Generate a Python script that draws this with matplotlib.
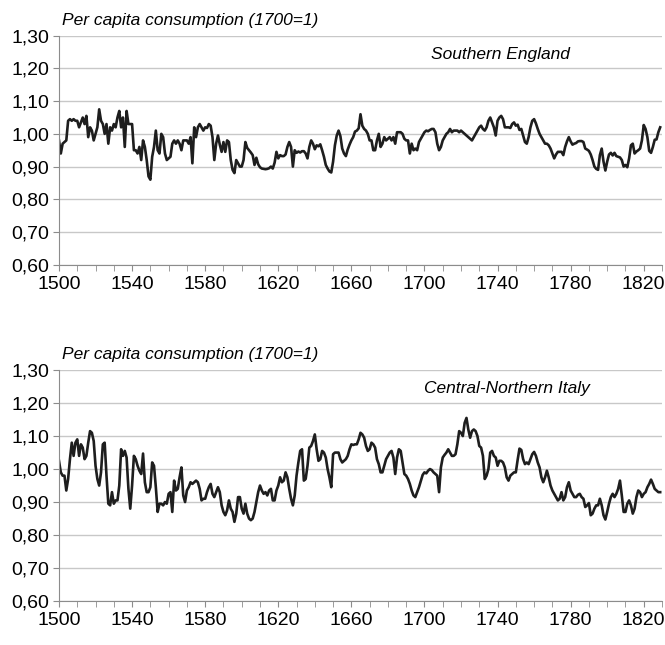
import numpy as np
import matplotlib.pyplot as plt
from matplotlib.ticker import MultipleLocator, FixedLocator, FuncFormatter

FONT = ['Liberation Sans Narrow', 'Liberation Sans', 'DejaVu Sans']
plt.rcParams['font.family'] = FONT

years = np.arange(1500, 1830)
year_labels = [1500, 1540, 1580, 1620, 1660, 1700, 1740, 1780, 1820]

# per capita consumption, 1700 = 1 (one value per year)
england = [
    0.98, 0.94, 0.97, 0.975, 0.98, 1.04, 1.045, 1.04, 1.045, 1.04,
    1.04, 1.02, 1.035, 1.05, 1.03, 1.055, 0.99, 1.02, 1.01, 0.98,
    1.00, 1.02, 1.075, 1.04, 1.03, 1.00, 1.03, 0.97, 1.02, 1.01,
    1.03, 1.02, 1.05, 1.07, 1.02, 1.05, 0.96, 1.07, 1.03, 1.03,
    1.03, 0.95, 0.95, 0.94, 0.96, 0.92, 0.98, 0.96, 0.92, 0.87,
    0.86, 0.93, 0.96, 1.01, 0.95, 0.94, 1.00, 0.99, 0.94, 0.92,
    0.925, 0.93, 0.97, 0.98, 0.97, 0.98, 0.97, 0.95, 0.98, 0.98,
    0.98, 0.97, 0.99, 0.91, 1.02, 0.99, 1.02, 1.03, 1.02, 1.01,
    1.02, 1.018, 1.03, 1.025, 0.99, 0.92, 0.97, 0.995, 0.967, 0.945,
    0.975, 0.945, 0.98, 0.975, 0.92, 0.89, 0.88, 0.92, 0.91, 0.90,
    0.90, 0.92, 0.975, 0.957, 0.95, 0.943, 0.935, 0.905, 0.927, 0.907,
    0.898, 0.894, 0.893, 0.892, 0.893, 0.895, 0.90, 0.894, 0.912, 0.945,
    0.925, 0.935, 0.932, 0.932, 0.937, 0.96, 0.975, 0.96, 0.90, 0.95,
    0.942, 0.946, 0.943, 0.947, 0.947, 0.94, 0.925, 0.96, 0.98, 0.97,
    0.953, 0.965, 0.962, 0.968, 0.95, 0.93, 0.905, 0.894, 0.885, 0.882,
    0.915, 0.965, 0.995, 1.01, 0.993, 0.955, 0.94, 0.932, 0.952, 0.967,
    0.98, 0.99, 1.007, 1.01, 1.017, 1.06, 1.025, 1.015, 1.01, 1.00,
    0.98, 0.98, 0.95, 0.95, 0.98, 1.00, 0.96, 0.97, 0.99, 0.98,
    0.985, 0.99, 0.98, 0.99, 0.97, 1.005, 1.005, 1.005, 1.00, 0.985,
    0.98, 0.98, 0.94, 0.97, 0.95, 0.955, 0.95, 0.975, 0.985, 0.995,
    1.005, 1.01, 1.008, 1.012, 1.015, 1.015, 1.005, 0.97, 0.95, 0.96,
    0.98, 0.99, 1.00, 1.005, 1.015, 1.005, 1.01, 1.01, 1.01, 1.005,
    1.01, 1.005, 1.00, 0.995, 0.99, 0.985, 0.98, 0.99, 1.00, 1.01,
    1.02, 1.025, 1.015, 1.01, 1.02, 1.04, 1.05, 1.035, 1.02, 0.995,
    1.04, 1.05, 1.055, 1.045, 1.02, 1.02, 1.02, 1.018, 1.03, 1.035,
    1.025, 1.028, 1.012, 1.015, 0.995, 0.975, 0.97, 0.99, 1.02, 1.04,
    1.045, 1.032, 1.015, 1.00, 0.99, 0.98, 0.97, 0.97, 0.965, 0.955,
    0.94, 0.925, 0.937, 0.945, 0.945, 0.945, 0.935, 0.96, 0.977, 0.99,
    0.977, 0.967, 0.97, 0.972, 0.977, 0.978, 0.978, 0.975, 0.955, 0.952,
    0.948, 0.937, 0.92, 0.90, 0.893, 0.89, 0.935, 0.955, 0.915, 0.888,
    0.915, 0.937, 0.942, 0.934, 0.942, 0.932, 0.93, 0.928, 0.92, 0.90,
    0.905, 0.898, 0.925, 0.965, 0.97, 0.94, 0.946, 0.95, 0.955, 0.98,
    1.027, 1.015, 0.99, 0.948, 0.942, 0.96, 0.982, 0.983, 1.005, 1.02,
]

italy = [
    1.025, 0.99, 0.98, 0.98, 0.935, 0.97, 1.03, 1.08, 1.04, 1.08,
    1.09, 1.04, 1.075, 1.065, 1.03, 1.04, 1.08, 1.115, 1.11, 1.085,
    1.01, 0.97, 0.95, 0.99, 1.075, 1.08, 0.98, 0.895, 0.89, 0.93,
    0.895, 0.905, 0.905, 0.95, 1.06, 1.04, 1.055, 1.035, 0.94, 0.88,
    0.95, 1.04, 1.03, 1.01, 0.995, 0.985, 1.047, 0.96, 0.93, 0.93,
    0.945, 1.02, 1.01, 0.945, 0.87, 0.895, 0.895, 0.89, 0.90, 0.895,
    0.925, 0.93, 0.87, 0.965, 0.935, 0.94, 0.975, 1.005, 0.92, 0.90,
    0.935, 0.945, 0.96, 0.955, 0.96, 0.965, 0.96, 0.94, 0.905, 0.91,
    0.91, 0.93, 0.945, 0.955, 0.925, 0.915, 0.93, 0.945, 0.93, 0.89,
    0.87, 0.86, 0.875, 0.905, 0.88, 0.87, 0.84, 0.865, 0.915, 0.915,
    0.88, 0.865, 0.895, 0.865, 0.85, 0.845, 0.85, 0.87, 0.90, 0.93,
    0.95, 0.935, 0.925, 0.93, 0.92, 0.935, 0.94, 0.905, 0.905, 0.935,
    0.95, 0.975, 0.96, 0.965, 0.99, 0.975, 0.94, 0.91, 0.89, 0.92,
    0.98, 1.02, 1.055, 1.06, 0.965, 0.97, 1.01, 1.065, 1.07, 1.085,
    1.105, 1.06, 1.025, 1.03, 1.055, 1.05, 1.035, 1.00, 0.975, 0.945,
    1.045, 1.05, 1.05, 1.05, 1.03, 1.02, 1.025, 1.03, 1.04, 1.06,
    1.075, 1.073, 1.075, 1.075, 1.09, 1.11, 1.105, 1.095, 1.07, 1.055,
    1.06, 1.08, 1.075, 1.065, 1.03, 1.015, 0.99, 0.99, 1.01, 1.03,
    1.04, 1.05, 1.055, 1.035, 0.985, 1.035, 1.06, 1.055, 1.02, 0.985,
    0.98, 0.97, 0.955, 0.935, 0.92, 0.915, 0.93, 0.945, 0.963, 0.982,
    0.99, 0.987, 0.995, 1.00, 0.997, 0.99, 0.985, 0.98, 0.93, 1.005,
    1.035, 1.043, 1.05, 1.06, 1.05, 1.04, 1.04, 1.045, 1.075, 1.115,
    1.11, 1.10, 1.14, 1.155, 1.12, 1.095, 1.115, 1.12, 1.115, 1.10,
    1.07, 1.065, 1.04, 0.97, 0.98, 1.00, 1.05, 1.055, 1.04, 1.035,
    1.01, 1.025, 1.025, 1.02, 1.005, 0.975, 0.965, 0.98, 0.985, 0.99,
    0.99, 1.028, 1.062, 1.058, 1.03, 1.015, 1.02, 1.015, 1.03, 1.045,
    1.052, 1.04, 1.02, 1.005, 0.975, 0.96, 0.975, 0.995, 0.975, 0.95,
    0.935, 0.925, 0.915, 0.905, 0.91, 0.93, 0.905, 0.915, 0.945, 0.96,
    0.935, 0.925, 0.915, 0.915, 0.922, 0.925, 0.915, 0.91, 0.885, 0.89,
    0.897, 0.86, 0.865, 0.88, 0.89, 0.89, 0.91, 0.89, 0.86, 0.847,
    0.87, 0.895, 0.915, 0.925, 0.915, 0.925, 0.94, 0.965, 0.92, 0.87,
    0.87, 0.895, 0.905, 0.89, 0.865, 0.88, 0.915, 0.935, 0.93, 0.915,
    0.925, 0.93, 0.945, 0.955, 0.968, 0.955, 0.94, 0.935, 0.93, 0.93,
]

ylabel = "Per capita consumption (1700=1)"
panels = [("Southern England", england, [0.0887, 0.5896, 0.9068, 0.355], 0.847),
          ("Central-Northern Italy", italy, [0.0887, 0.0682, 0.9068, 0.358], 0.88)]

fig = plt.figure(figsize=(6.65, 6.45), dpi=100)

for name, values, rect, name_x in panels:
    ax = fig.add_axes(rect)
    ax.plot(years, values, color="#1e1e1e", lw=1.9, solid_joinstyle="round")
    ax.set_xlim(1500, 1830)
    ax.set_ylim(0.6, 1.3)
    ax.yaxis.set_major_locator(MultipleLocator(0.1))
    ax.yaxis.set_major_formatter(FuncFormatter(lambda v, p: f"{v:.2f}".replace(".", ",")))
    ax.xaxis.set_major_locator(FixedLocator(year_labels))
    ax.xaxis.set_minor_locator(MultipleLocator(10))
    ax.grid(axis="y", color="#c8c8c8", lw=1.0)
    ax.set_axisbelow(True)
    for s in ["top", "right"]:
        ax.spines[s].set_visible(False)
    for s in ["left", "bottom"]:
        ax.spines[s].set_color("#8c8c8c")
    ax.tick_params(which="both", direction="out", length=4, color="#8c8c8c", labelsize=14)
    ax.tick_params(axis="x", pad=4)
    ax.tick_params(axis="y", pad=3)
    ax.text(0.005, 1.035, ylabel, transform=ax.transAxes, ha="left", va="bottom",
            fontsize=12.5, style="italic")
    ax.text(name_x, 0.92, name, transform=ax.transAxes, ha="right", va="center",
            fontsize=12.5, style="italic")

fig.savefig("out.png", dpi=100)
